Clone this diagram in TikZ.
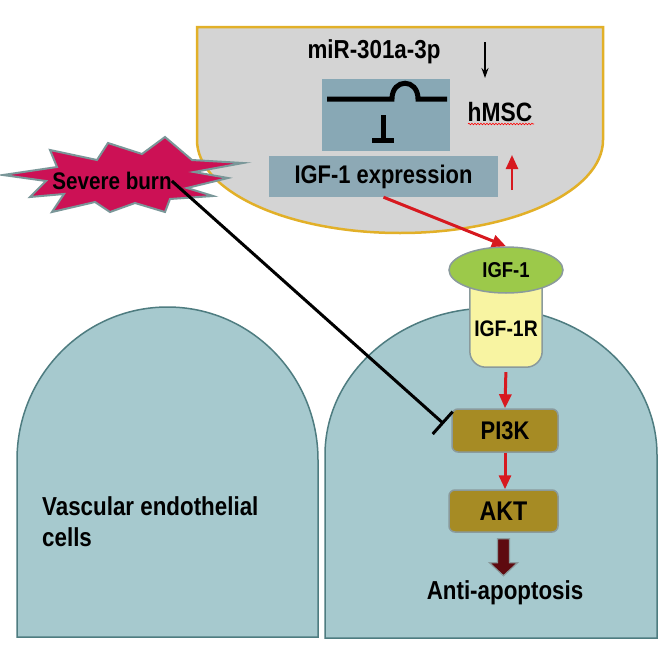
\documentclass[tikz,border=0pt]{standalone}
\usepackage{fontspec}
\setmainfont{Liberation Sans}[FakeStretch=0.86]
\usetikzlibrary{calc, positioning, arrows.meta, shapes.geometric, decorations.pathmorphing}
\definecolor{cellfill}{RGB}{166,201,206}
\definecolor{cellline}{RGB}{78,124,128}
\definecolor{mscfill}{RGB}{212,212,212}
\definecolor{mscline}{RGB}{226,176,40}
\definecolor{boxblue}{RGB}{141,169,181}
\definecolor{symblue}{RGB}{136,168,181}
\definecolor{burnred}{RGB}{204,17,85}
\definecolor{burnline}{RGB}{122,151,153}
\definecolor{ligand}{RGB}{156,201,74}
\definecolor{receptor}{RGB}{248,244,162}
\definecolor{kinase}{RGB}{166,139,36}
\definecolor{greyline}{RGB}{138,154,156}
\definecolor{arrowred}{RGB}{215,25,31}
\definecolor{darkred}{RGB}{94,10,15}
\newcommand{\fsz}[1]{\bfseries\fontsize{#1}{#1}\selectfont}

\begin{document}
\begin{tikzpicture}[x=1pt, y=-1pt, >=Stealth,
  lbl/.style={inner sep=0pt},
  kinasebox/.style={draw=greyline, line width=1.5pt, fill=kinase, rounded corners=6pt,
    minimum width=106pt, minimum height=43pt, inner sep=0pt},
  act/.style={-{Triangle[length=14pt, width=12pt]}, arrowred, line width=3pt}]
  \fill[white] (0,0) rectangle (664,664);
  \useasboundingbox (0,0) rectangle (664,664);

  % Endothelial cells
  \draw[cellline, line width=1.5pt, fill=cellfill]
    (17,637) -- (17,460) .. controls (17,375.5) and (84.4,307) .. (167.5,307)
    .. controls (250.6,307) and (318,375.5) .. (318,460) -- (318,637) -- cycle;
  \draw[cellline, line width=1.5pt, fill=cellfill]
    (325,638) -- (325,455) .. controls (325,373.8) and (399.3,308) .. (491,308)
    .. controls (582.7,308) and (657,373.8) .. (657,455) -- (657,638) -- cycle;
  \node[lbl, anchor=west, align=left, font=\bfseries\fontsize{26}{31}\selectfont] (vec) at (42,522)
    {Vascular endothelial\\cells};

  % hMSC
  \draw[mscline, line width=2.5pt, fill=mscfill]
    (197,27) -- (603,27) -- (603,140) .. controls (603,191.4) and (512.1,233) .. (400,233)
    .. controls (287.9,233) and (197,191.4) .. (197,140) -- cycle;
  \node[lbl, font=\fsz{26}] (mir) at (374,52) {miR-301a-3p};
  \node[lbl, font=\fsz{26.5}] (msc) at (500,112) {hMSC};
  \draw[red, line width=0.6pt, decorate, decoration={snake, amplitude=0.8pt, segment length=3pt}]
    (468,124) -- (534,124);
  \draw[-{Stealth[length=10pt, width=7pt]}, line width=2pt] (485,42) -- (485,78);
  \draw[act, line width=2.5pt] (512,190) -- (512,155);

  \node[fill=symblue, minimum width=128pt, minimum height=72pt] (gene) at (386,115) {};
  \draw[line width=5pt] (327,99) -- (392,99) .. controls (392,78) and (418,78) .. (418,99) -- (447,99);
  \draw[line width=5pt, -{Bar[width=22pt, line width=5pt]}] (383,115) -- (383,143);
  \node[fill=boxblue, minimum width=229pt, minimum height=41pt, font=\fsz{25.5}] (expr) at (383.5,176.5)
    {IGF-1 expression};

  % Severe burn
  \draw[burnline, line width=2pt, fill=burnred]
    (3,175) -- (46,181) -- (30,197) -- (64,194) -- (52,212) -- (95,202) -- (110,212)
    -- (135,203) -- (165,212) -- (170,199) -- (213,196) -- (187,188) -- (228,178)
    -- (194,172) -- (243,163) -- (192,160) -- (165,137) -- (142,154) -- (108,143)
    -- (97,160) -- (50,150) -- (57,167) -- cycle;
  \node[lbl, font=\fsz{24}] (burn) at (112,181) {Severe burn};

  % Receptor
  \node[minimum width=72pt, minimum height=80pt] (igfr) at (506,327) {};
  \draw[greyline, line width=1.5pt, fill=receptor, rounded corners=16pt]
    (igfr.north west) -- (igfr.south west) -- (igfr.south east) -- (igfr.north east);
  \node[lbl, font=\fsz{22.5}] (igfrtxt) at (506,329) {IGF-1R};
  \node[ellipse, draw=greyline, line width=1.5pt, fill=ligand, minimum width=114pt,
    minimum height=46pt, inner sep=0pt, font=\fsz{21.5}] (igf) at (506,270) {IGF-1};

  % Signalling
  \node[kinasebox, font=\fsz{25.5}] (pi3k) at (505,430.5) {PI3K};
  \node[kinasebox, minimum width=109pt, minimum height=42pt, font=\fsz{27}] (akt) at (503.5,511) {AKT};
  \node[lbl, font=\fsz{26}] (anti) at (505,593) {Anti-apoptosis};

  \draw[act] (expr.south) -- (igf.north);
  \draw[act, shorten <=5pt] (igfr.south) -- (pi3k.north);
  \draw[act] (pi3k.south) -- (pi3k.south |- akt.north);
  \draw[greyline, line width=1.2pt, fill=darkred, shift={(akt.south)}]
    (-6,6) -- (6,6) -- (6,30) -- (14,30) -- (0,43) -- (-14,30) -- (-6,30) -- cycle;
  \draw[line width=3pt, -{Bar[width=30pt, line width=3pt]}, shorten >=10pt] (burn.east) -- (pi3k.west);
\end{tikzpicture}
\end{document}
